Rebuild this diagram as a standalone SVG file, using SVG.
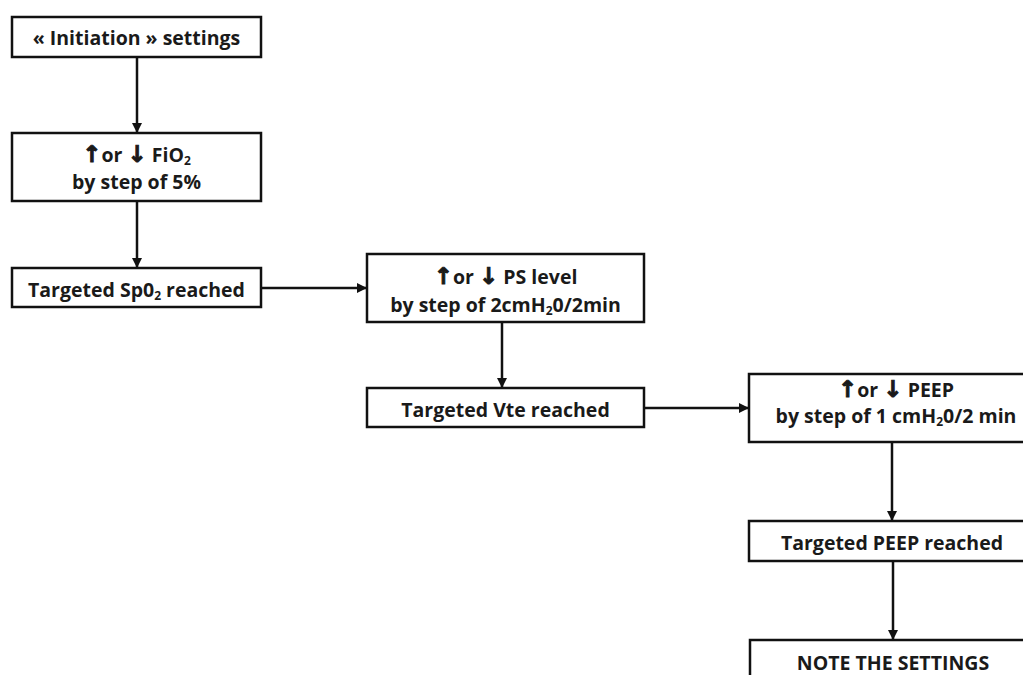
<svg xmlns="http://www.w3.org/2000/svg" width="1023" height="675" viewBox="0 0 1023 675">
<defs>
<style>
.box{fill:#fff;stroke:#111;stroke-width:2.5}
.t{font-family:"Open Sans","Liberation Sans",sans-serif;font-weight:bold;font-size:19.5px;fill:#1a1a1a;text-anchor:middle}
.ar{font-family:"DejaVu Sans",sans-serif;font-weight:bold;font-size:23px;stroke:#1a1a1a;stroke-width:0.9}
.sub{font-size:12px}
.c{stroke:#111;stroke-width:2.5;fill:none;marker-end:url(#ah)}
</style>
<marker id="ah" viewBox="0 0 10 10" refX="10" refY="5" markerWidth="4" markerHeight="4" orient="auto" markerUnits="strokeWidth">
<path d="M0,0 L10,5 L0,10 z" fill="#111"/>
</marker>
</defs>
<rect width="1023" height="675" fill="#fff"/>
<g id="connectors">
<line class="c" x1="137" y1="57" x2="137" y2="133"/>
<line class="c" x1="137" y1="201" x2="137" y2="268"/>
<line class="c" x1="261" y1="288" x2="367" y2="288"/>
<line class="c" x1="502" y1="322" x2="502" y2="388"/>
<line class="c" x1="644" y1="408" x2="749" y2="408"/>
<line class="c" x1="892" y1="442" x2="892" y2="521"/>
<line class="c" x1="893" y1="561" x2="893" y2="640"/>
</g>
<g id="n1">
<rect class="box" x="12" y="17" width="249" height="40"/>
<text class="t" x="136.5" y="45">« Initiation » settings</text>
</g>
<g id="n2">
<rect class="box" x="12" y="133" width="249" height="68"/>
<text class="t" x="136.5" y="162"><tspan class="ar">↑</tspan>or <tspan class="ar">↓</tspan>  FiO<tspan class="sub" dy="3">2</tspan></text>
<text class="t" x="136.5" y="189">by step of 5%</text>
</g>
<g id="n3">
<rect class="box" x="12" y="268" width="249" height="39"/>
<text class="t" x="136.5" y="297">Targeted Sp0<tspan class="sub" dy="3">2</tspan><tspan dy="-3"> reached</tspan></text>
</g>
<g id="n4">
<rect class="box" x="367" y="254" width="277" height="68"/>
<text class="t" x="505.5" y="284"><tspan class="ar">↑</tspan>or <tspan class="ar">↓</tspan> PS level</text>
<text class="t" x="505.5" y="312">by step of 2cmH<tspan class="sub" dy="3">2</tspan><tspan dy="-3">0/2min</tspan></text>
</g>
<g id="n5">
<rect class="box" x="367" y="388" width="277" height="39"/>
<text class="t" x="505.5" y="417">Targeted Vte reached</text>
</g>
<g id="n6">
<rect class="box" x="749" y="374" width="300" height="68"/>
<text class="t" x="896" y="397"><tspan class="ar">↑</tspan>or <tspan class="ar">↓</tspan> PEEP</text>
<text class="t" x="896" y="423">by step of 1 cmH<tspan class="sub" dy="3">2</tspan><tspan dy="-3">0/2 min</tspan></text>
</g>
<g id="n7">
<rect class="box" x="749" y="521" width="300" height="40"/>
<text class="t" x="892" y="550">Targeted PEEP reached</text>
</g>
<g id="n8">
<rect class="box" x="750" y="640" width="300" height="60"/>
<text class="t" x="893" y="670">NOTE THE SETTINGS</text>
</g>
</svg>
